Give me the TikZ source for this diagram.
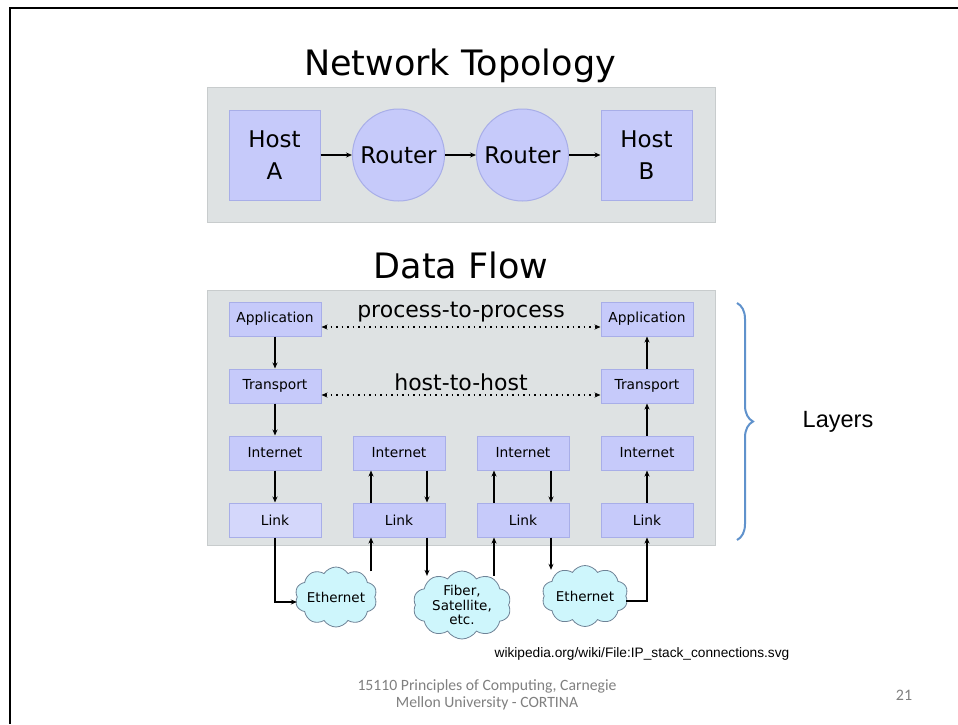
\documentclass[tikz,border=0pt]{standalone}
\usepackage{fontspec}
\setmainfont{DejaVu Sans}
\newfontfamily\arialfont{Liberation Sans}
\newfontfamily\slidefont{Carlito}
\usetikzlibrary{arrows.meta,positioning,shapes.symbols,decorations.pathreplacing}

\definecolor{boxfill}{RGB}{198,202,250}
\definecolor{boxline}{RGB}{168,174,232}
\definecolor{panelfill}{RGB}{222,226,227}
\definecolor{panelline}{RGB}{200,204,205}
\definecolor{cloudfill}{RGB}{206,246,252}
\definecolor{cloudline}{RGB}{110,130,150}
\definecolor{bracecol}{RGB}{96,146,204}

\begin{document}
\begin{tikzpicture}[x=1pt,y=-1pt,>={Stealth[length=6pt,width=5pt]},
  line width=1.4pt,
  node distance=67pt and 124pt,on grid,
  panel/.style={fill=panelfill,draw=panelline,line width=1pt},
  host/.style={rectangle,fill=boxfill,draw=boxline,line width=1pt,minimum width=91pt,minimum height=90pt,align=center,font=\fontsize{23}{32}\selectfont},
  router/.style={circle,fill=boxfill,draw=boxline,line width=1pt,minimum size=92pt,inner sep=0pt,font=\fontsize{23}{28}\selectfont},
  layer/.style={rectangle,fill=boxfill,draw=boxline,line width=1pt,minimum width=92pt,minimum height=34pt,inner sep=0pt,font=\fontsize{13.8}{16}\selectfont},
  net/.style={cloud,cloud puffs=10,cloud puff arc=115,cloud ignores aspect,fill=cloudfill,draw=cloudline,line width=0.8pt,inner sep=0pt},
  netlabel/.style={align=center,inner sep=0pt,font=\fontsize{13.5}{14.5}\selectfont},
  title/.style={anchor=base,font=\fontsize{35}{40}\selectfont},
  flow/.style={<->,dash pattern=on 1.5pt off 4pt,line width=1.4pt}]

\useasboundingbox (0,0) rectangle (958,724);
\fill[white] (0,0) rectangle (958,724);
\draw[line width=2.5pt] (9,8) -- (958,8);
\draw[line width=2.5pt] (10,8) -- (10,724);

% network topology
\node[title] (toptitle) at (460,75) {Network Topology};
\draw[panel] (207,87) rectangle (715,222);
\node[host]   (hostA) at (274.5,155) {Host\\A};
\node[router] (r1)  [right=of hostA] {Router};
\node[router] (r2)  [right=of r1]    {Router};
\node[host]   (hostB) [right=of r2]  {Host\\B};
\path[->] (hostA) edge (r1)
          (r1)    edge (r2)
          (r2)    edge (hostB);

% data flow
\node[title] (flowtitle) at (461,278) {Data Flow};
\draw[panel] (207,290) rectangle (715,545);
\node[layer] (app1) at (275,319) {Application};
\node[layer] (tr1)  [below=of app1] {Transport};
\node[layer] (in1)  [below=of tr1]  {Internet};
\node[layer,fill=boxfill!75!white] (ln1)  [below=of in1]  {Link};
\node[layer] (in2)  [right=of in1]  {Internet};
\node[layer] (ln2)  [right=of ln1]  {Link};
\node[layer] (in3)  [right=of in2]  {Internet};
\node[layer] (ln3)  [right=of ln2]  {Link};
\node[layer] (in4)  [right=of in3]  {Internet};
\node[layer] (ln4)  [right=of ln3]  {Link};
\node[layer] (tr4)  [above=of in4]  {Transport};
\node[layer] (app4) [above=of tr4]  {Application};

\path[->] (app1) edge (tr1)
          (tr1)  edge (in1)
          (in1)  edge (ln1)
          (ln4)  edge (in4)
          (in4)  edge (tr4)
          (tr4)  edge (app4)
          ([xshift=-28pt]ln2.north) edge ([xshift=-28pt]in2.south)
          ([xshift=28pt]in2.south)  edge ([xshift=28pt]ln2.north)
          ([xshift=-29pt]ln3.north) edge ([xshift=-29pt]in3.south)
          ([xshift=28pt]in3.south)  edge ([xshift=28pt]ln3.north);

\draw[flow] ([yshift=-8pt]app1.east) -- ([yshift=-8pt]app4.west)
  node[midway,anchor=base,yshift=10pt,font=\fontsize{22}{26}\selectfont] (p2p) {process-to-process};
\draw[flow] ([yshift=-9pt]tr1.east) -- ([yshift=-9pt]tr4.west)
  node[midway,anchor=base,yshift=5pt,font=\fontsize{22}{26}\selectfont] (h2h) {host-to-host};

% physical links
\node[net,minimum width=82pt,minimum height=60pt,label={[netlabel]center:Ethernet}] (eth1) [below right=77pt and 61pt of ln1] {};
\node[net,minimum width=98pt,minimum height=68pt,label={[netlabel]center:Fiber,\\Satellite,\\etc.}] (fiber) [below right=85pt and 63pt of ln2] {};
\node[net,minimum width=86pt,minimum height=61pt,label={[netlabel]center:Ethernet}] (eth2) [below right=76pt and 62pt of ln3] {};

\draw[->] (ln1.south) |- ([yshift=-5pt]eth1.west);
\draw[->] ([xshift=-28pt]ln2.south |- eth1.50) -- ([xshift=-28pt]ln2.south);
\draw[->] ([xshift=28pt]ln2.south) -- ([xshift=28pt]ln2.south |- fiber.128);
\draw[->] ([xshift=-29pt]ln3.south |- fiber.52) -- ([xshift=-29pt]ln3.south);
\draw[->] ([xshift=28pt]ln3.south) -- ([xshift=28pt]ln3.south |- eth2.128);
\draw[->] ([yshift=-5pt]eth2.east) -| (ln4.south);

% layers brace
\draw[bracecol,line width=2pt,decorate,decoration={brace,amplitude=16pt}] (737,303) -- (737,540);
\node[anchor=base,font=\arialfont\fontsize{23.5}{26}\selectfont] (layers) at (838,427) {Layers};

% credits
\node[anchor=base,font=\arialfont\fontsize{13.7}{16}\selectfont] (source) at (642,657) {wikipedia.org/wiki/File:IP\_stack\_connections.svg};
\node[anchor=base,align=center,text=gray,font=\slidefont\fontsize{15.7}{16.5}\selectfont] (footer) at (487,707) {15110 Principles of Computing, Carnegie\\Mellon University - CORTINA};
\node[anchor=base,text=gray,font=\slidefont\fontsize{16}{19}\selectfont] (pagenum) at (904,700) {21};
\end{tikzpicture}
\end{document}
